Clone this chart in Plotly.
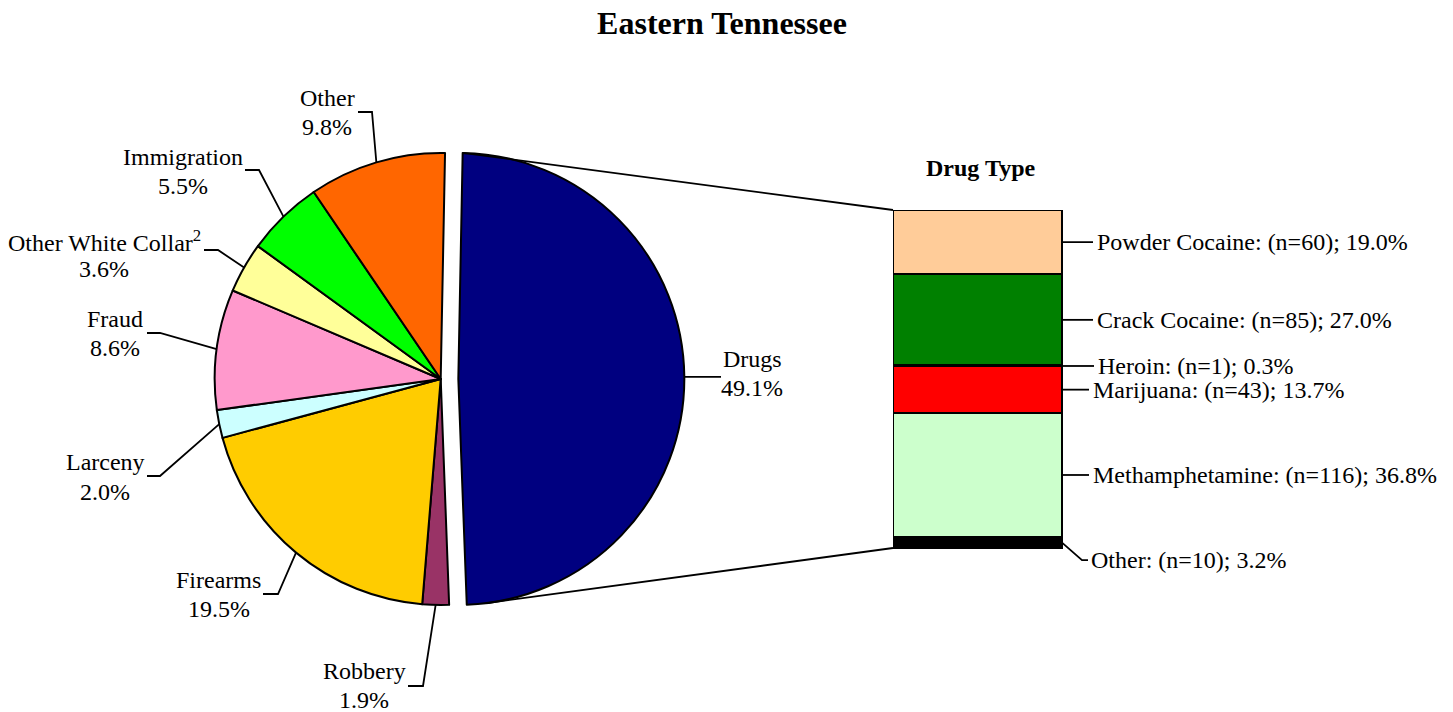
import math
import plotly.graph_objects as go

# browser window size and default page margin
WIN_W, WIN_H = 1453, 712
PAGE_MARGIN = 8
W, H = WIN_W - PAGE_MARGIN, WIN_H - PAGE_MARGIN

# ---------------- data ----------------
crime_types = ["Drugs", "Robbery", "Firearms", "Larceny", "Fraud",
               "Other White Collar<sup>2</sup>", "Immigration", "Other"]
crime_pct = [49.1, 1.9, 19.5, 2.0, 8.6, 3.6, 5.5, 9.8]
crime_colors = ["#000080", "#993366", "#FFCC00", "#CCFFFF", "#FF99CC",
                "#FFFF99", "#00FF00", "#FF6600"]

drug_types = ["Powder Cocaine", "Crack Cocaine", "Heroin", "Marijuana",
              "Methamphetamine", "Other"]
drug_n = [60, 85, 1, 43, 116, 10]
drug_pct = [19.0, 27.0, 0.3, 13.7, 36.8, 3.2]
drug_colors = ["#FFCC99", "#008000", "#3333CC", "#FF0000", "#CCFFCC", "#000000"]

# ---------------- layout constants (window pixels) ----------------
FONT = "Liberation Serif, Times New Roman, serif"
PIE_CX, PIE_CY, PIE_R = 440.7, 379.0, 226.0
PULL = 0.078
ROT = 1.1

BAR_LEFT, BAR_RIGHT, BAR_TOP, BAR_BOT = 893.0, 1062.0, 210.0, 548.0
X_RANGE = [-0.5, 2.6]
Y_RANGE = [-10, 100]

# label placement for pie slices: (text center x, line1 y, line2 y, elbow points)
pie_label_pos = [
    (752, 359, 388, [(721, None)]),                  # Drugs
    (364, 671, 700, [(423, 686), (408, 686)]),        # Robbery
    (219, 580, 609, [(278, 594), (263, 594)]),        # Firearms
    (105, 462, 492, [(160, 476), (147, 476)]),        # Larceny
    (115, 319, 348, [(160, 333), (147, 333)]),        # Fraud
    (104, 241, 269, [(218, 250), (204, 250)]),        # Other White Collar
    (183, 157, 186, [(259, 170), (245, 170)]),        # Immigration
    (327, 98, 127, [(372, 112), (358, 112)]),         # Other
]

# bar label placement: (x shift of text px, y shift px, line end px)
bar_label_pos = [(33, 0, 31), (33, 0, 31), (34, 0, 32), (29, 0, 27),
                 (29, 0, 27), (27, -17.5, 20)]


def px(x):
    return (x - PAGE_MARGIN) / W


def py(y):
    return 1 - (y - PAGE_MARGIN) / H


fig = go.Figure()

# ---------------- pie ----------------
half = PIE_R * (1 + PULL)
pulls = [PULL] + [0] * (len(crime_pct) - 1)
fig.add_trace(go.Pie(
    labels=crime_types, values=crime_pct, sort=False, direction="clockwise",
    rotation=ROT, pull=pulls, textinfo="none", hoverinfo="skip",
    marker=dict(colors=crime_colors, line=dict(color="black", width=2)),
    domain=dict(x=[px(PIE_CX - half), px(PIE_CX + half)],
                y=[py(PIE_CY + half), py(PIE_CY - half)]),
    showlegend=False,
))

# geometry of slices derived from the data
total = sum(crime_pct)
starts, cum = [], 0.0
for v in crime_pct:
    starts.append(cum)
    cum += v
ang = lambda frac: math.radians(ROT + 360.0 * frac / total)

shapes = []
annotations = []
for i, (name, pct) in enumerate(zip(crime_types, crime_pct)):
    mid = ang(starts[i] + pct / 2)
    ox = oy = 0.0
    if pulls[i]:
        ox = PIE_R * pulls[i] * math.sin(mid)
        oy = -PIE_R * pulls[i] * math.cos(mid)
    ex = PIE_CX + ox + PIE_R * math.sin(mid)
    ey = PIE_CY + oy - PIE_R * math.cos(mid)
    tx, y1, y2, elbow = pie_label_pos[i]
    pts = [(ex, ey)] + [(a, ey if b is None else b) for a, b in elbow]
    path = "M " + " L ".join(f"{px(a):.5f},{py(b):.5f}" for a, b in pts)
    shapes.append(dict(type="path", path=path, xref="paper", yref="paper",
                       line=dict(color="black", width=1.8)))
    annotations.append(dict(x=px(tx), y=py(y1), xref="paper", yref="paper",
                            text=name, showarrow=False, xanchor="center",
                            yanchor="middle", font=dict(family=FONT, size=24, color="black")))
    annotations.append(dict(x=px(tx), y=py(y2), xref="paper", yref="paper",
                            text=f"{pct:.1f}%", showarrow=False, xanchor="center",
                            yanchor="middle", font=dict(family=FONT, size=24, color="black")))

# ---------------- stacked bar ----------------
unit_x = BAR_RIGHT - BAR_LEFT
unit_y = (BAR_BOT - BAR_TOP) / 100.0
dom_x = [px(BAR_LEFT), px(BAR_LEFT + unit_x * (X_RANGE[1] - X_RANGE[0]))]
dom_y = [py(BAR_BOT + unit_y * (0 - Y_RANGE[0])), py(BAR_TOP)]

order = list(range(len(drug_types)))[::-1]  # bottom segment first
for i in order:
    fig.add_trace(go.Bar(
        x=[0], y=[drug_pct[i]], width=1, name=drug_types[i],
        marker=dict(color=drug_colors[i], line=dict(color="black", width=2)),
        hoverinfo="skip", showlegend=False,
    ))

base = 0.0
mids = {}
for i in order:
    mids[i] = base + drug_pct[i] / 2
    base += drug_pct[i]

for i, name in enumerate(drug_types):
    dx, dy, lx = bar_label_pos[i]
    annotations.append(dict(
        x=0.5, y=mids[i], xref="x", yref="y", xanchor="left", yanchor="middle",
        xshift=dx, yshift=dy, showarrow=False,
        text=f"{name}: (n={drug_n[i]}); {drug_pct[i]:.1f}%",
        font=dict(family=FONT, size=24, color="black")))
    if dy == 0:
        shapes.append(dict(type="line", xref="x", yref="y", xsizemode="pixel",
                           xanchor=0.5, x0=0, x1=lx, y0=mids[i], y1=mids[i],
                           line=dict(color="black", width=1.8)))
    else:
        shapes.append(dict(type="path", xref="x", yref="y", xsizemode="pixel",
                           ysizemode="pixel", xanchor=0.5, yanchor=mids[i],
                           path=f"M0,0 L{lx},{dy} L{lx + 6},{dy}",
                           line=dict(color="black", width=1.8)))

# ---------------- connectors pie -> bar ----------------
ccx = PIE_CX + PIE_R * PULL * math.sin(ang(crime_pct[0] / 2))
ccy = PIE_CY - PIE_R * PULL * math.cos(ang(crime_pct[0] / 2))
a0 = ang(0)
top_pt = (ccx + PIE_R * math.sin(a0), ccy - PIE_R * math.cos(a0))
# lower tangent from bar bottom-left corner to drugs slice circle
dxp, dyp = BAR_LEFT - ccx, BAR_BOT - ccy
d = math.hypot(dxp, dyp)
phi = math.atan2(dyp, dxp) + math.acos(PIE_R / d)
bot_pt = (ccx + PIE_R * math.cos(phi), ccy + PIE_R * math.sin(phi))
for (sx, sy), (bx, by) in [(top_pt, (BAR_LEFT, BAR_TOP)), (bot_pt, (BAR_LEFT, BAR_BOT))]:
    shapes.append(dict(type="line", xref="paper", yref="paper",
                       x0=px(sx), y0=py(sy), x1=px(bx), y1=py(by),
                       line=dict(color="black", width=1.8)))

annotations.append(dict(x=px(980), y=py(168), xref="paper", yref="paper",
                        xanchor="center", yanchor="middle",
                        text="<b>Drug Type</b>", showarrow=False,
                        font=dict(family=FONT, size=24, color="black")))

fig.update_layout(
    width=W, height=H, margin=dict(l=0, r=0, t=0, b=0),
    paper_bgcolor="white", plot_bgcolor="white",
    barmode="stack", bargap=0,
    title=dict(text="<b>Eastern Tennessee</b>", x=px(722), y=py(23),
               xanchor="center", yanchor="middle",
               font=dict(family=FONT, size=32, color="black")),
    xaxis=dict(domain=dom_x, range=X_RANGE, visible=False, fixedrange=True),
    yaxis=dict(domain=dom_y, range=Y_RANGE, visible=False, fixedrange=True),
    shapes=shapes, annotations=annotations,
)

fig.write_html("out.html")
